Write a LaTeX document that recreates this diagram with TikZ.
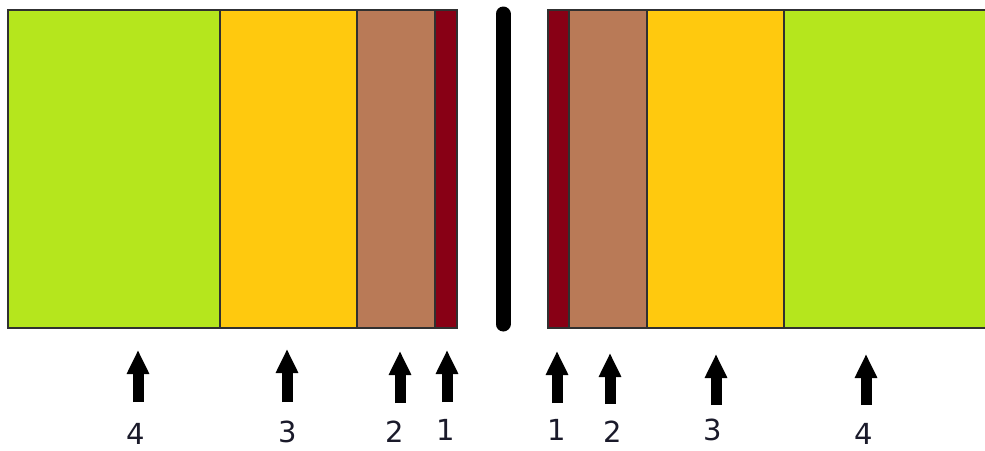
\documentclass[tikz,border=0pt]{standalone}
\usepackage{fontspec}
\setmainfont{DejaVu Sans}
\usetikzlibrary{arrows.meta}
\definecolor{cgreen}{HTML}{B5E61D}
\definecolor{cyellow}{HTML}{FFC90E}
\definecolor{cbrown}{HTML}{B97A57}
\definecolor{cred}{HTML}{880015}
\definecolor{cedge}{HTML}{303030}
\definecolor{ctext}{HTML}{1A1A2A}
\begin{document}
\begin{tikzpicture}[x=1pt,y=-1pt,
  layer/.style={draw=cedge,line width=1.2pt},
  blockarrow/.style={line width=11pt,-{Triangle[width=21pt,length=24pt]}},
  lbl/.style={font=\fontsize{29}{29}\selectfont,text=ctext,inner sep=0pt}]
\useasboundingbox (0,0) rectangle (985,450);
% left block
\path[layer,fill=cgreen]  (8,10) rectangle (220,328);
\path[layer,fill=cyellow] (220,10) rectangle (357,328);
\path[layer,fill=cbrown]  (357,10) rectangle (435,328);
\path[layer,fill=cred]    (435,10) rectangle (457,328);
% right block
\path[layer,fill=cred]    (548,10) rectangle (569,328);
\path[layer,fill=cbrown]  (569,10) rectangle (647,328);
\path[layer,fill=cyellow] (647,10) rectangle (784,328);
\path[layer,fill=cgreen]  (784,10) rectangle (990,328);
% central bar
\draw[line width=15pt,line cap=round] (503,14) -- (503,324);
% arrows
\foreach \n/\x/\yt/\yb in {L4/138/350/402, L3/287/349/402, L2/400/351/403, L1/447/350/402,
                           R1/557/351/403, R2/610/353/404, R3/716/354/405, R4/866/354/405}{
  \coordinate (b\n) at (\x,\yb);
  \coordinate (t\n) at (\x,\yt);
  \draw[blockarrow] (b\n) -- (t\n);
}
% labels
\node[lbl] (nL4) at (136,434) {4};
\node[lbl] (nL3) at (288,432) {3};
\node[lbl] (nL2) at (395,432) {2};
\node[lbl] (nL1) at (446,430) {1};
\node[lbl] (nR1) at (557,430) {1};
\node[lbl] (nR2) at (613,432) {2};
\node[lbl] (nR3) at (713,430) {3};
\node[lbl] (nR4) at (864,434) {4};
\end{tikzpicture}
\end{document}
